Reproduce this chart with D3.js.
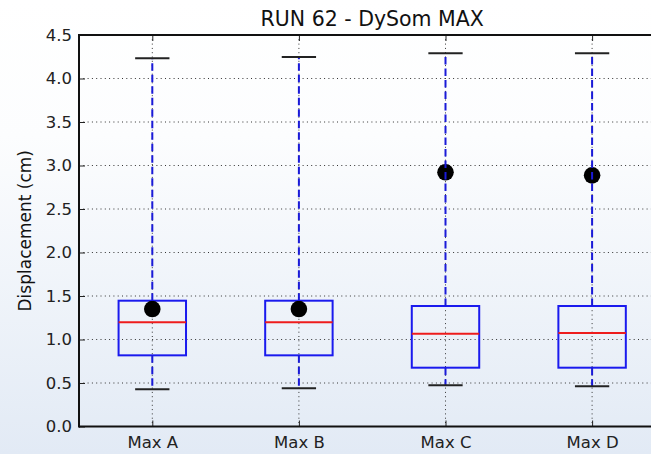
<!DOCTYPE html>
<html>
<head>
<meta charset="utf-8">
<script src="https://cdn.jsdelivr.net/npm/d3@7"></script>
<style>
  html, body { margin: 0; padding: 0; }
  body { width: 651px; height: 454px; overflow: hidden; }
  svg { display: block; }
</style>
</head>
<body>
<svg id="chart" width="651" height="454"></svg>
<script>
// ---- data ----
const categories = ["Max A", "Max B", "Max C", "Max D"];
const whiskerLow  = [0.428, 0.439, 0.474, 0.462];
const q1Values    = [0.818, 0.818, 0.676, 0.676];
const medianValues= [1.198, 1.198, 1.067, 1.075];
const q3Values    = [1.446, 1.446, 1.385, 1.385];
const whiskerHigh = [4.232, 4.247, 4.290, 4.290];
const meanValues  = [1.350, 1.350, 2.922, 2.887];
const yTicks = [0.0, 0.5, 1.0, 1.5, 2.0, 2.5, 3.0, 3.5, 4.0, 4.5];
const titleText = "RUN 62 - DySom MAX";
const yLabelText = "Displacement (cm)";

(function () {
// ---- layout ----
const W = 651, H = 454;
const pLeft = 79, pTop = 35, pBottom = 426.5, pRight = 79 + 4 * 146.6;
const svg = d3.select("#chart");
const defs = svg.append("defs");
const grad = defs.append("linearGradient").attr("id", "bg")
  .attr("x1", 0).attr("y1", 0).attr("x2", 0).attr("y2", 1);
grad.append("stop").attr("offset", "0%").attr("stop-color", "#ffffff");
grad.append("stop").attr("offset", "30%").attr("stop-color", "#fcfdfe");
grad.append("stop").attr("offset", "100%").attr("stop-color", "#e2eaf5");
svg.append("rect").attr("width", W).attr("height", H).attr("fill", "url(#bg)");

const idx = categories.map((d, i) => i + 1);
const x = d3.scaleLinear().domain([0.5, 4.5]).range([pLeft, pRight]);
const y = d3.scaleLinear().domain([0, 4.5]).range([pBottom, pTop]);
const boxHalf = 0.23, capHalf = 0.117;

// grid
const grid = svg.append("g");
grid.selectAll("line.h").data(yTicks.slice(1, -1)).join("line")
  .attr("x1", pLeft).attr("x2", pRight).attr("y1", d => y(d)).attr("y2", d => y(d))
  .attr("stroke", "#333").attr("stroke-width", 1).attr("stroke-dasharray", "1,3.3");
grid.selectAll("line.v").data(idx).join("line")
  .attr("x1", d => x(d)).attr("x2", d => x(d)).attr("y1", pTop).attr("y2", pBottom)
  .attr("stroke", "#333").attr("stroke-width", 1).attr("stroke-dasharray", "1,3.3");

// axes (ticks inward)
const font = "DejaVu Sans, sans-serif";
const yAxis = svg.append("g").attr("transform", `translate(${pLeft},0)`)
  .call(d3.axisLeft(y).tickValues(yTicks).tickFormat(d3.format(".1f")).tickSizeInner(-6).tickSizeOuter(0).tickPadding(7));
yAxis.select(".domain").remove();
yAxis.selectAll("text").attr("font-family", font).attr("font-size", 16.5).attr("fill", "#222");
yAxis.selectAll("line").attr("stroke", "#222");

const xAxis = svg.append("g").attr("transform", `translate(0,${pBottom})`)
  .call(d3.axisBottom(x).tickValues(idx).tickFormat((d, i) => categories[i]).tickSizeInner(-6).tickSizeOuter(0).tickPadding(10));
xAxis.select(".domain").remove();
xAxis.selectAll("text").attr("font-family", font).attr("font-size", 16.5).attr("fill", "#222");
xAxis.selectAll("line").attr("stroke", "#222");

const xTop = svg.append("g").attr("transform", `translate(0,${pTop})`)
  .call(d3.axisTop(x).tickValues(idx).tickFormat("").tickSizeInner(-6).tickSizeOuter(0));
xTop.select(".domain").remove();
xTop.selectAll("line").attr("stroke", "#222");

// spines
svg.append("line").attr("x1", pLeft).attr("x2", pRight).attr("y1", pTop).attr("y2", pTop).attr("stroke", "#111").attr("stroke-width", 2);
svg.append("line").attr("x1", pLeft).attr("x2", pRight).attr("y1", pBottom).attr("y2", pBottom).attr("stroke", "#111").attr("stroke-width", 2);
svg.append("line").attr("x1", pLeft).attr("x2", pLeft).attr("y1", pTop - 1).attr("y2", pBottom + 1).attr("stroke", "#111").attr("stroke-width", 2);

// boxes
const g = svg.append("g");
g.selectAll("rect.box").data(idx).join("rect")
  .attr("x", d => x(d - boxHalf)).attr("width", d => x(d + boxHalf) - x(d - boxHalf))
  .attr("y", (d, i) => y(q3Values[i])).attr("height", (d, i) => y(q1Values[i]) - y(q3Values[i]))
  .attr("fill", "none").attr("stroke", "#1a1aee").attr("stroke-width", 2);
g.selectAll("line.med").data(idx).join("line")
  .attr("x1", d => x(d - boxHalf)).attr("x2", d => x(d + boxHalf))
  .attr("y1", (d, i) => y(medianValues[i])).attr("y2", (d, i) => y(medianValues[i]))
  .attr("stroke", "#ee1c1c").attr("stroke-width", 2);

// means
g.selectAll("circle.mean").data(idx).join("circle")
  .attr("cx", d => x(d)).attr("cy", (d, i) => y(meanValues[i])).attr("r", 8.3).attr("fill", "#000");

// whiskers
g.selectAll("line.wu").data(idx).join("line")
  .attr("x1", d => x(d)).attr("x2", d => x(d))
  .attr("y1", (d, i) => y(q3Values[i])).attr("y2", (d, i) => y(whiskerHigh[i]))
  .attr("stroke", "#1a1ad8").attr("stroke-width", 2).attr("stroke-dasharray", "7.5,4");
g.selectAll("line.wl").data(idx).join("line")
  .attr("x1", d => x(d)).attr("x2", d => x(d))
  .attr("y1", (d, i) => y(q1Values[i])).attr("y2", (d, i) => y(whiskerLow[i]))
  .attr("stroke", "#1a1ad8").attr("stroke-width", 2).attr("stroke-dasharray", "7.5,4");

// caps
g.selectAll("line.ch").data(idx).join("line")
  .attr("x1", d => x(d - capHalf)).attr("x2", d => x(d + capHalf))
  .attr("y1", (d, i) => y(whiskerHigh[i])).attr("y2", (d, i) => y(whiskerHigh[i]))
  .attr("stroke", "#222").attr("stroke-width", 2);
g.selectAll("line.cl").data(idx).join("line")
  .attr("x1", d => x(d - capHalf)).attr("x2", d => x(d + capHalf))
  .attr("y1", (d, i) => y(whiskerLow[i])).attr("y2", (d, i) => y(whiskerLow[i]))
  .attr("stroke", "#222").attr("stroke-width", 2);

// title & label
svg.append("text").attr("x", (pLeft + pRight) / 2).attr("y", 26).attr("text-anchor", "middle")
  .attr("font-family", font).attr("font-size", 20.5).attr("fill", "#111").text(titleText);
svg.append("text").attr("transform", `translate(31,${(pTop + pBottom) / 2}) rotate(-90)`)
  .attr("text-anchor", "middle").attr("font-family", font).attr("font-size", 17).attr("fill", "#111").text(yLabelText);
})();
</script>
</body>
</html>
